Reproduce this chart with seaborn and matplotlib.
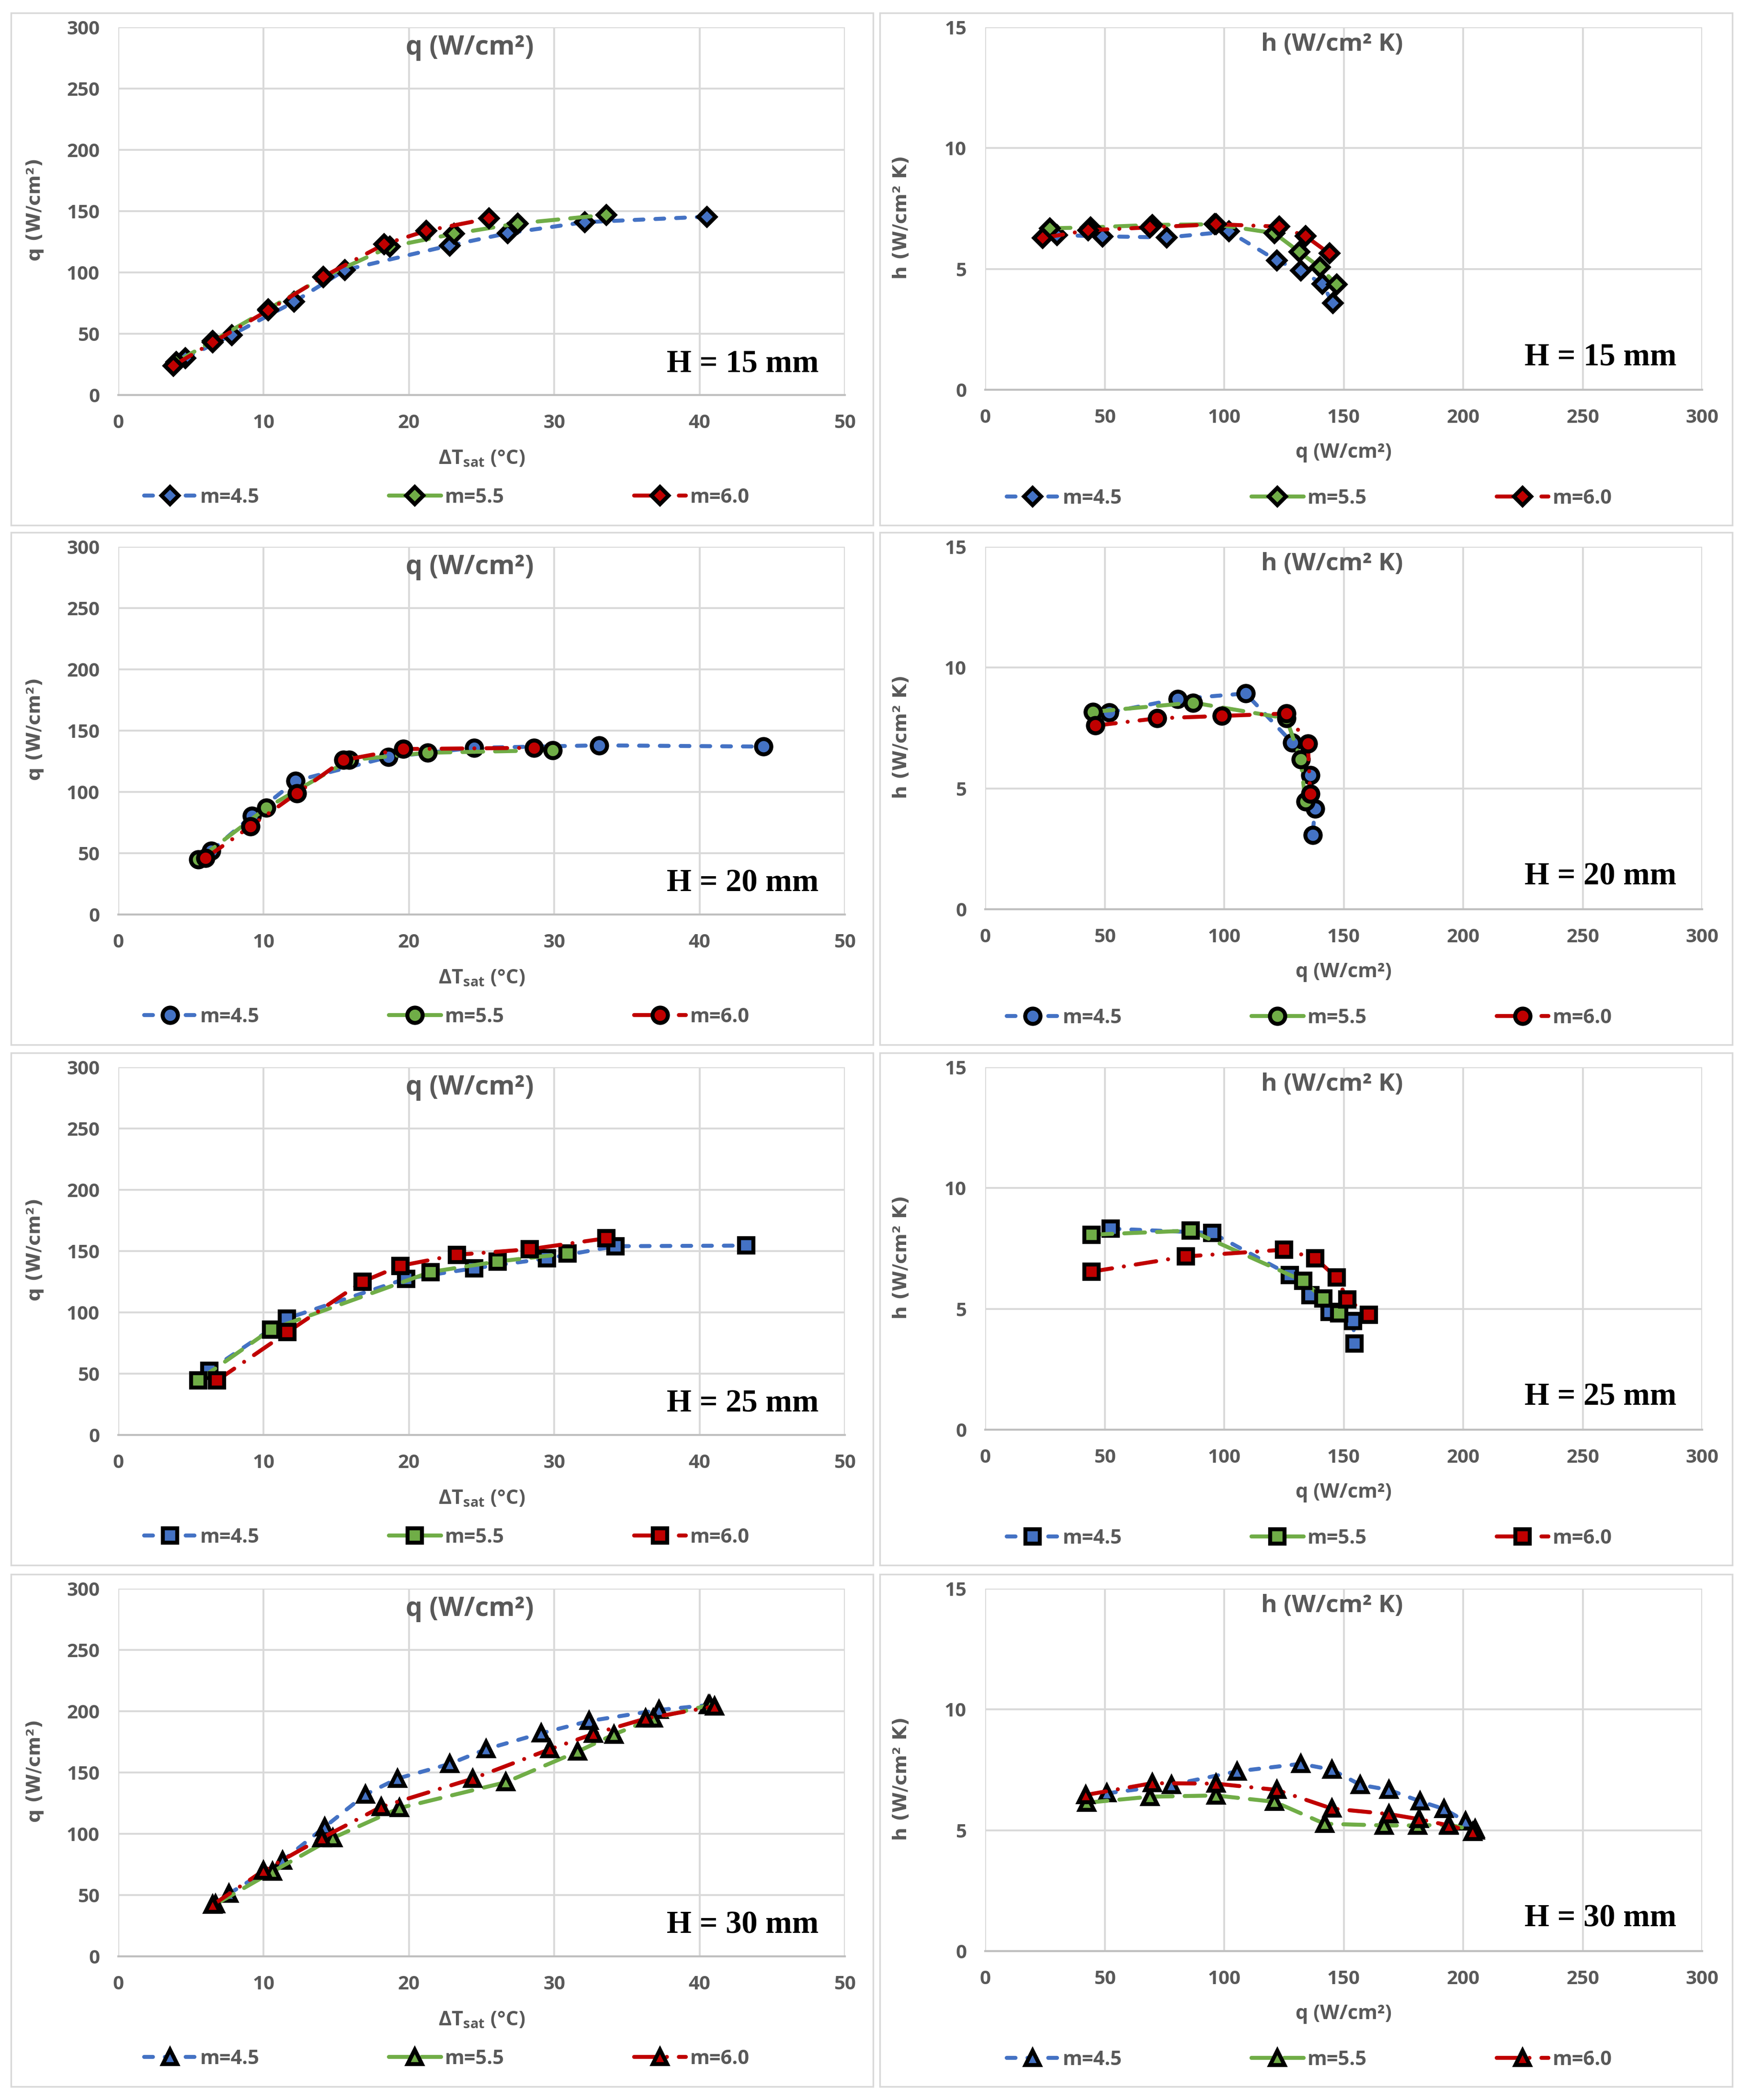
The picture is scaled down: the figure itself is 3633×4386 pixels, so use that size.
import matplotlib
matplotlib.use('Agg')
import matplotlib.pyplot as plt
from matplotlib.patches import Rectangle
import seaborn as sns

# ---- data (dT in degC, q in W/cm2, h in W/cm2 K) ----
series_labels = ['m=4.5', 'm=5.5', 'm=6.0']
heights = ['H = 15 mm', 'H = 20 mm', 'H = 25 mm', 'H = 30 mm']

# H = 15 mm
dT_15_45 = [4.6, 7.8, 12.1, 15.6, 22.8, 26.8, 32.1, 40.5]
q_15_45 = [30, 49, 76, 102, 122, 132, 141, 145.5]
h_15_45 = [6.4, 6.35, 6.3, 6.55, 5.35, 4.93, 4.38, 3.58]
dT_15_55 = [4.0, 6.5, 10.3, 14.1, 18.7, 23.1, 27.5, 33.6]
q_15_55 = [27, 44, 70, 96, 121, 131.5, 140, 147]
h_15_55 = [6.68, 6.72, 6.82, 6.85, 6.48, 5.7, 5.07, 4.35]
dT_15_60 = [3.8, 6.5, 10.3, 14.1, 18.3, 21.2, 25.5]
q_15_60 = [24, 43, 69, 96.5, 123, 134, 144]
h_15_60 = [6.28, 6.6, 6.72, 6.85, 6.75, 6.36, 5.64]

# H = 20 mm
dT_20_45 = [6.4, 9.2, 12.2, 18.6, 24.5, 33.1, 44.4]
q_20_45 = [52, 80.5, 109, 128.5, 136, 138, 137]
h_20_45 = [8.15, 8.7, 8.93, 6.89, 5.55, 4.16, 3.08]
dT_20_55 = [5.5, 10.2, 15.9, 21.3, 29.9]
q_20_55 = [45, 87, 126, 132, 134]
h_20_55 = [8.17, 8.55, 7.9, 6.2, 4.45]
dT_20_60 = [6.0, 9.1, 12.3, 15.5, 19.6, 28.6]
q_20_60 = [46, 72, 99, 126, 135, 136]
h_20_60 = [7.6, 7.9, 8.0, 8.1, 6.86, 4.77]

# H = 25 mm
dT_25_45 = [6.25, 11.6, 19.8, 24.5, 29.5, 34.2, 43.2]
q_25_45 = [52.5, 95, 127.5, 136, 144, 154, 154.5]
h_25_45 = [8.32, 8.14, 6.4, 5.57, 4.88, 4.49, 3.56]
dT_25_55 = [5.5, 10.5, 21.5, 26.1, 30.9]
q_25_55 = [44.5, 86, 133, 141.5, 148]
h_25_55 = [8.07, 8.24, 6.16, 5.43, 4.81]
dT_25_60 = [6.8, 11.65, 16.8, 19.4, 23.3, 28.3, 33.6]
q_25_60 = [44.5, 84, 125, 138, 147, 151.5, 160.5]
h_25_60 = [6.54, 7.17, 7.45, 7.1, 6.3, 5.39, 4.76]

# H = 30 mm
dT_30_45 = [7.6, 11.3, 14.2, 17.0, 19.2, 22.8, 25.3, 29.1, 32.4, 37.2, 40.6]
q_30_45 = [51, 78, 105.5, 132, 145, 157, 169, 182, 192, 201, 205]
h_30_45 = [6.53, 6.88, 7.44, 7.75, 7.51, 6.88, 6.67, 6.2, 5.88, 5.37, 5.05]
dT_30_55 = [6.7, 10.6, 14.75, 19.35, 26.65, 31.6, 34.1, 36.8, 40.7]
q_30_55 = [42.5, 69, 96.5, 121, 142, 167, 181, 194, 205]
h_30_55 = [6.14, 6.39, 6.44, 6.18, 5.27, 5.2, 5.2, 5.23, 5.0]
dT_30_60 = [6.5, 10.0, 14.0, 18.1, 24.4, 29.7, 32.7, 36.3, 41.05]
q_30_60 = [42, 70, 96.5, 122, 145, 169, 181.5, 194, 204]
h_30_60 = [6.46, 6.95, 6.93, 6.67, 5.9, 5.67, 5.46, 5.2, 4.93]

rows = [
    ([dT_15_45, dT_15_55, dT_15_60], [q_15_45, q_15_55, q_15_60], [h_15_45, h_15_55, h_15_60]),
    ([dT_20_45, dT_20_55, dT_20_60], [q_20_45, q_20_55, q_20_60], [h_20_45, h_20_55, h_20_60]),
    ([dT_25_45, dT_25_55, dT_25_60], [q_25_45, q_25_55, q_25_60], [h_25_45, h_25_55, h_25_60]),
    ([dT_30_45, dT_30_55, dT_30_60], [q_30_45, q_30_55, q_30_60], [h_30_45, h_30_55, h_30_60]),
]
markers = ['D', 'o', 's', '^']
marker_sizes = [18, 23, 22, 22]

sns.set_style('white')
plt.rcParams['font.family'] = ['Open Sans', 'DejaVu Sans']
plt.rcParams['mathtext.default'] = 'regular'

W, H = 3633, 4386
fig = plt.figure(figsize=(W / 100, H / 100), dpi=100)

GRAY = '#595959'
colors = ['#4472C4', '#70AD47', '#C00000']
styles = [(0, (2.2, 3.0)), (0, (5.2, 3.0)), (0, (5.2, 3.0, 0.01, 3.0))]
box_tops = [27, 1112, 2199, 3288]


def px_axes(x0, y0, x1, y1):
    return fig.add_axes([x0 / W, 1 - y1 / H, (x1 - x0) / W, (y1 - y0) / H])


def px_box(x0, y0, x1, y1):
    fig.add_artist(Rectangle((x0 / W, 1 - y1 / H), (x1 - x0) / W, (y1 - y0) / H,
                             transform=fig.transFigure, fill=False,
                             ec='#D9D9D9', lw=2.5))


def draw_panel(ax, xs, ys, marker, ms, xmax, xstep, ymax, ystep, title, title_size,
               xlabel, ylabel, htext, ylab_x, ylab_y, title_y, txt_y, leg_y):
    for x, y, lab, c, ls in zip(xs, ys, series_labels, colors, styles):
        sns.lineplot(x=x, y=y, ax=ax, sort=False, estimator=None, label=lab,
                     color=c, linestyle=ls, linewidth=6, dash_capstyle='round',
                     marker=marker, markersize=ms, markerfacecolor=c,
                     markeredgecolor='black', markeredgewidth=6)
    ax.set_xlim(0, xmax)
    ax.set_ylim(0, ymax)
    ax.set_xticks(range(0, xmax + 1, xstep))
    ax.set_yticks(range(0, ymax + 1, ystep))
    ax.grid(True, color='#D9D9D9', lw=2.8)
    ax.set_axisbelow(True)
    for s in ['top', 'right', 'left']:
        ax.spines[s].set_visible(False)
    ax.spines['bottom'].set_color('#BFBFBF')
    ax.spines['bottom'].set_linewidth(3)
    ax.tick_params(length=0, labelsize=29, labelcolor=GRAY, pad=28)
    for t in ax.get_xticklabels() + ax.get_yticklabels():
        t.set_fontweight('bold')
    ax.text(0.484, title_y, title, transform=ax.transAxes, ha='center', va='center',
            fontsize=title_size, color=GRAY, fontweight='bold')
    ax.text(0.964, txt_y, htext, transform=ax.transAxes, ha='right', va='center',
            fontsize=48, color='black', family='Liberation Serif', fontweight='bold')
    ax.set_xlabel(xlabel, fontsize=30, color=GRAY, fontweight='bold')
    ax.xaxis.set_label_coords(0.5, -0.147)
    ax.set_ylabel(ylabel, fontsize=28, color=GRAY, fontweight='bold', family='DejaVu Sans')
    ax.yaxis.set_label_coords(ylab_x, ylab_y)
    ax.legend(loc='center', bbox_to_anchor=(0.452, leg_y), ncol=3, frameon=False,
              prop={'size': 30, 'weight': 'bold'}, labelcolor=GRAY,
              handlelength=2.6, handletextpad=0.2, columnspacing=6.5, numpoints=1)


for i, (dts, qs, hs) in enumerate(rows):
    top = box_tops[i]
    px_box(23, top, 1823, top + 1070)
    px_box(1837, top, 3617, top + 1070)

    ax_q = px_axes(247, top + 30, 1764, top + 798)
    draw_panel(ax_q, dts, qs, markers[i], marker_sizes[i], 50, 10, 300, 50,
               'q (W/cm²)', 40, r'ΔT$_{sat}$ (°C)', 'q (W/cm²)', heights[i],
               -0.102, 0.504, 0.945, 0.085, -0.279)

    ax_h = px_axes(2057, top + 30, 3554, top + 787)
    draw_panel(ax_h, qs, hs, markers[i], marker_sizes[i], 300, 50, 15, 5,
               'h (W/cm² K)', 37, 'q (W/cm²)', 'h (W/cm² K)', heights[i],
               -0.104, 0.476, 0.952, 0.09, -0.30)

fig.savefig('out.png', dpi=100, facecolor='white')
